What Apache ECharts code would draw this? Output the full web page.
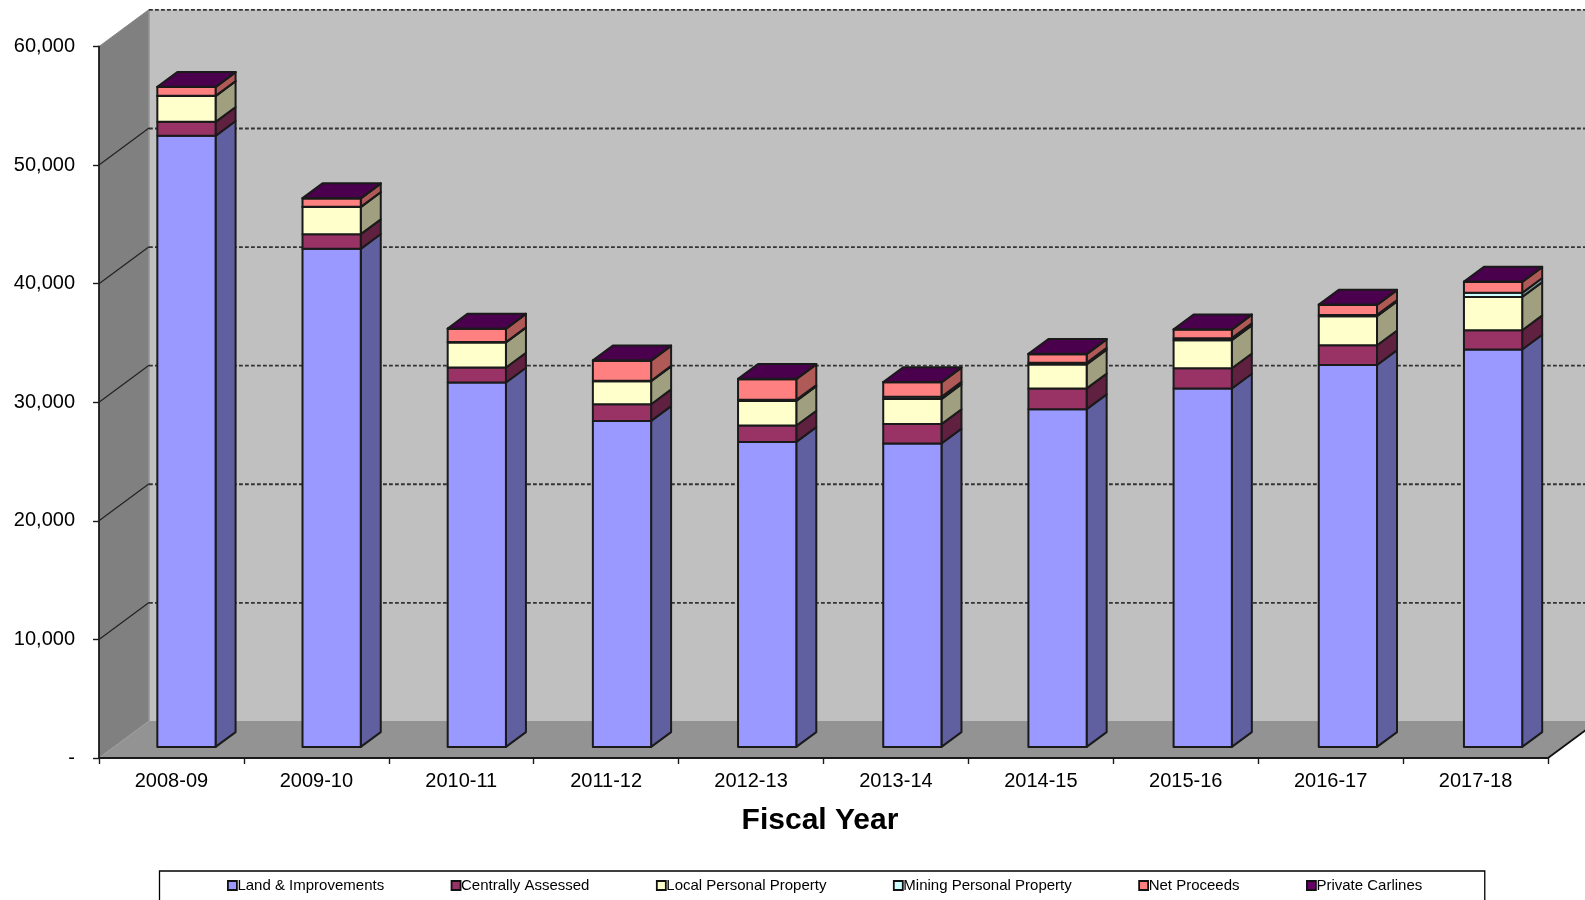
<!DOCTYPE html>
<html>
<head>
<meta charset="utf-8">
<style>html,body{margin:0;padding:0;background:#fff;overflow:hidden}#chart{width:1585px;height:900px;filter:blur(0.35px)}</style>
<script src="https://cdn.jsdelivr.net/npm/echarts@6/dist/echarts.min.js"></script>
</head>
<body>
<div id="chart"></div>
<script>
var categories = ['2008-09','2009-10','2010-11','2011-12','2012-13','2013-14','2014-15','2015-16','2016-17','2017-18'];
var yTicks = [0,10000,20000,30000,40000,50000,60000];
var landImprovements = [51530,42000,30730,27490,25720,25590,28480,30220,32210,33510];
var centrallyAssessed = [1180,1240,1265,1410,1380,1630,1750,1710,1660,1630];
var localPersonal = [2170,2280,2110,1940,2070,2110,2020,2360,2450,2810];
var miningPersonal = [30,30,40,40,100,200,150,180,110,340];
var netProceeds = [730,700,1110,1690,1740,1210,720,720,840,920];
var privateCarlines = [30,30,30,30,30,30,30,30,30,30];

var seriesNames = ['Land & Improvements','Centrally Assessed','Local Personal Property','Mining Personal Property','Net Proceeds','Private Carlines'];
var seriesValues = [landImprovements,centrallyAssessed,localPersonal,miningPersonal,netProceeds,privateCarlines];
var frontColors = ['#9999FF','#993366','#FFFFCC','#CCFFFF','#FF8080','#660066'];
var sideColors  = ['#6060A0','#602040','#A0A080','#80A0A0','#B05A58','#4A004D'];
var topColor = '#4A004D';

var WALL_DX = 50, WALL_DY = 37;
var BAR_FRONT = 0.3, BAR_BACK = 0.7, BAR_WIDTH = 0.402, BAR_DRIFT = 0.28;
var EDGE = '#1a1a1a';

function wallRender(params, api) {
  if (params.dataIndex !== 0) return { type: 'group', children: [] };
  var o = api.coord([0, 0]), top = api.coord([0, 60000]);
  var cw = api.size([1, 0])[0];
  var L = o[0] - cw / 2, R = L + cw * categories.length, B = o[1], T = top[1];
  var dx = WALL_DX, dy = WALL_DY;
  function poly(pts, fill) { return { type: 'polygon', shape: { points: pts }, style: { fill: fill, stroke: null } }; }
  return { type: 'group', children: [
    poly([[L+dx,T-dy],[R+dx,T-dy],[R+dx,B-dy],[L+dx,B-dy]], '#C0C0C0'),
    poly([[L,T],[L+dx,T-dy],[L+dx,B-dy],[L,B]], '#808080'),
    poly([[L,B],[L+dx,B-dy],[R+dx,B-dy],[R,B]], '#939393'),
    { type: 'line', shape: { x1: L+dx, y1: T-dy, x2: L+dx, y2: B-dy }, style: { stroke: '#949494', lineWidth: 1.5 } },
    { type: 'line', shape: { x1: L, y1: T, x2: L+dx, y2: T-dy }, style: { stroke: '#8a8a8a', lineWidth: 1 } },
    { type: 'line', shape: { x1: L, y1: B, x2: L+dx, y2: B-dy }, style: { stroke: '#9c9c9c', lineWidth: 1 } },
    { type: 'line', shape: { x1: R, y1: B, x2: R+dx, y2: B-dy }, style: { stroke: '#111', lineWidth: 1.8 } }
  ]};
}

function gridRender(params, api) {
  var v = api.value(0);
  var p = api.coord([0, v]);
  var cw = api.size([1, 0])[0];
  var L = p[0] - cw / 2, R = L + cw * categories.length, y = p[1];
  var kids = [];
  if (v > 0) {
    kids.push({ type: 'line', shape: { x1: L+WALL_DX, y1: y-WALL_DY+0.4, x2: R+WALL_DX, y2: y-WALL_DY+0.4 },
      style: { stroke: '#333', lineWidth: 1.8, lineDash: [3.8, 2.2] } });
  }
  if (v > 0 && v < 60000) {
    kids.push({ type: 'line', shape: { x1: L, y1: y, x2: L+WALL_DX, y2: y-WALL_DY },
      style: { stroke: '#222', lineWidth: 1.2 } });
  }
  return { type: 'group', children: kids };
}

function barRender(seriesIndex) {
  return function (params, api) {
    var idx = api.value(0);
    var a = api.coord([idx, api.value(1)]), b = api.coord([idx, api.value(2)]);
    var cw = api.size([1, 0])[0];
    var w = cw * BAR_WIDTH;
    var x0 = a[0] + WALL_DX * BAR_FRONT - w / 2 + idx * BAR_DRIFT, x1 = x0 + w;
    var yb = a[1] - WALL_DY * BAR_FRONT, yt = b[1] - WALL_DY * BAR_FRONT;
    var d = WALL_DX * (BAR_BACK - BAR_FRONT), e = WALL_DY * (BAR_BACK - BAR_FRONT);
    function face(pts, fill) {
      return { type: 'polygon', shape: { points: pts },
        style: { fill: fill, stroke: EDGE, lineWidth: 2, lineJoin: 'round' } };
    }
    var kids = [
      face([[x1,yb],[x1+d,yb-e],[x1+d,yt-e],[x1,yt]], sideColors[seriesIndex]),
      face([[x0,yb],[x1,yb],[x1,yt],[x0,yt]], frontColors[seriesIndex])
    ];
    if (seriesIndex === seriesNames.length - 1) {
      kids.push(face([[x0,yt],[x1,yt],[x1+d,yt-e],[x0+d,yt-e]], topColor));
    }
    return { type: 'group', children: kids };
  };
}

var series = [
  { type: 'custom', name: 'walls', z: 1, silent: true, clip: false, renderItem: wallRender,
    data: [[0]], encode: { y: 0 }, coordinateSystem: 'cartesian2d' },
  { type: 'custom', name: 'grid', z: 1, silent: true, clip: false, renderItem: gridRender,
    data: yTicks.map(function (t) { return [t]; }), encode: { y: 0 } }
];
var running = categories.map(function () { return 0; });
seriesNames.forEach(function (name, s) {
  var rows = categories.map(function (c, i) {
    var base = running[i];
    running[i] += seriesValues[s][i];
    return [i, base, running[i]];
  });
  series.push({
    type: 'custom', name: name, z: 4, clip: false, renderItem: barRender(s),
    itemStyle: { color: frontColors[s] },
    encode: { x: 0, y: [1, 2] }, data: rows
  });
});

var chart = echarts.init(document.getElementById('chart'), null, { renderer: 'canvas' });
var FONT = '"Liberation Sans", Arial, sans-serif';
chart.setOption({
  animation: false,
  backgroundColor: '#fff',
  textStyle: { fontFamily: FONT },
  title: {
    text: 'Fiscal Year', left: 815, top: 800.5, textAlign: 'center',
    textStyle: { fontFamily: FONT, fontSize: 30, fontWeight: 'bold', color: '#000' }
  },
  grid: { left: 99, right: 37, top: 46.5, bottom: 142, containLabel: false },
  xAxis: {
    type: 'category', data: categories, z: 3,
    axisLine: { lineStyle: { color: '#1a1a1a', width: 1.8 } },
    axisTick: { show: true, alignWithLabel: false, length: 6, lineStyle: { color: '#1a1a1a', width: 1.4 } },
    axisLabel: { fontFamily: FONT, fontSize: 20, color: '#000', margin: 13 },
    splitLine: { show: false }
  },
  yAxis: {
    type: 'value', min: 0, max: 60000, interval: 10000, z: 3,
    axisLine: { show: true, lineStyle: { color: '#1a1a1a', width: 1.8 } },
    axisTick: { show: true, length: 6, lineStyle: { color: '#1a1a1a', width: 1.4 } },
    axisLabel: {
      fontFamily: FONT, fontSize: 20, color: '#000', margin: 24, padding: [1, 0, 0, 0],
      formatter: function (v) { return v === 0 ? '-' : v.toLocaleString('en-US'); }
    },
    splitLine: { show: false }
  },
  legend: {
    data: seriesNames, left: 159.5, top: 871, orient: 'horizontal',
    padding: [7, 62.5, 20, 67.5], borderColor: '#000', borderWidth: 1.3, backgroundColor: '#fff',
    icon: 'rect', itemWidth: 9, itemHeight: 9, itemGap: 66.5, selectedMode: false,
    itemStyle: { borderColor: '#111', borderWidth: 1.8 },
    textStyle: { fontFamily: FONT, fontSize: 15, color: '#000', padding: [0, 0, 0, -4.5] }
  },
  series: series
});
</script>
</body>
</html>
